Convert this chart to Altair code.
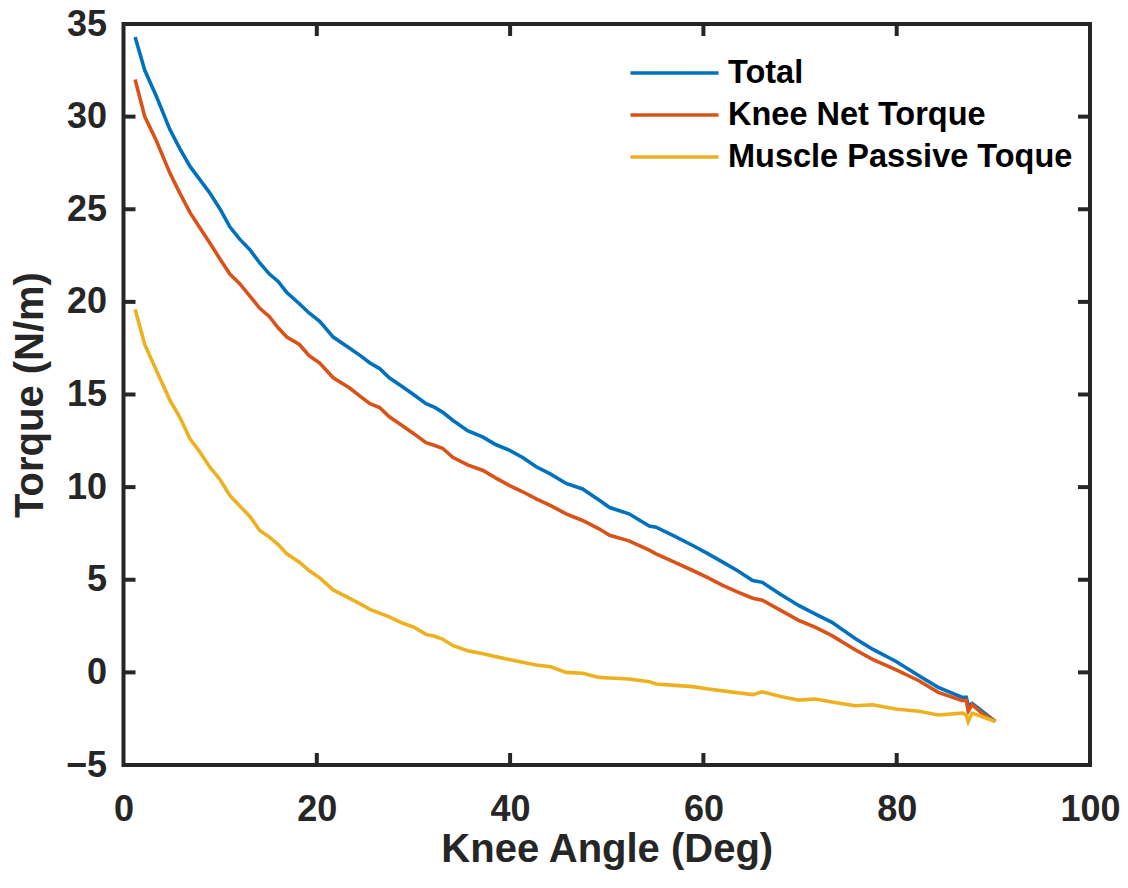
import altair as alt
import pandas as pd

# Knee angle (deg), shared sample positions
knee_angle = [1.2, 2.2, 3.4, 4.8, 5.8, 6.9, 7.9, 8.9, 10.0, 11.0, 12.0, 13.1, 14.1, 15.1,
              16.0, 16.9, 18.2, 19.2, 20.3, 21.7, 23.4, 24.5, 25.5, 26.5, 27.5, 28.9,
              30.0, 31.3, 32.2, 33.0, 34.1, 35.6, 37.2, 38.5, 39.9, 41.3, 42.7, 44.2,
              45.8, 47.5, 49.2, 50.3, 52.3, 54.4, 55.1, 57.0, 58.9, 60.5, 62.0, 63.5,
              65.1, 66.1, 68.0, 69.9, 71.6, 73.3, 75.7, 77.5, 79.9, 82.3, 84.3, 86.8,
              87.2, 87.4, 87.8, 88.8, 90.2]

total = [34.3, 32.5, 31.1, 29.3, 28.3, 27.3, 26.6, 25.9, 25.0, 24.05, 23.4, 22.8, 22.1, 21.5,
         21.1, 20.5, 19.9, 19.4, 18.95, 18.1, 17.5, 17.1, 16.7, 16.4, 15.9, 15.4,
         15.0, 14.5, 14.3, 14.05, 13.6, 13.05, 12.7, 12.3, 12.0, 11.6, 11.1, 10.7,
         10.2, 9.9, 9.3, 8.9, 8.56, 7.9, 7.84, 7.35, 6.85, 6.4, 5.95, 5.5,
         4.96, 4.86, 4.2, 3.6, 3.15, 2.7, 1.83, 1.25, 0.6, -0.18, -0.81, -1.35,
         -1.35, -1.8, -1.68, -2.08, -2.65]

knee_net = [32.0, 30.0, 28.7, 26.95, 25.9, 24.8, 24.0, 23.2, 22.3, 21.5, 21.0, 20.3, 19.65, 19.2,
            18.6, 18.1, 17.7, 17.1, 16.7, 15.9, 15.35, 14.9, 14.5, 14.3, 13.8, 13.3,
            12.9, 12.4, 12.25, 12.1, 11.6, 11.2, 10.9, 10.5, 10.1, 9.75, 9.37, 9.0,
            8.56, 8.2, 7.75, 7.4, 7.1, 6.6, 6.4, 5.95, 5.5, 5.1, 4.7, 4.35,
            4.0, 3.9, 3.35, 2.8, 2.43, 1.98, 1.22, 0.7, 0.15, -0.45, -1.08, -1.53,
            -1.5, -2.1, -1.74, -2.2, -2.65]

muscle_passive = [19.6, 17.7, 16.3, 14.7, 13.8, 12.6, 11.9, 11.1, 10.4, 9.55, 9.0, 8.4, 7.66, 7.3,
                  6.9, 6.4, 5.95, 5.5, 5.1, 4.45, 4.0, 3.7, 3.4, 3.2, 3.0, 2.65,
                  2.45, 2.05, 1.95, 1.8, 1.44, 1.17, 1.0, 0.85, 0.7, 0.55, 0.4, 0.3,
                  0.0, -0.05, -0.27, -0.3, -0.36, -0.5, -0.63, -0.7, -0.77, -0.9, -1.0, -1.1,
                  -1.2, -1.05, -1.3, -1.5, -1.44, -1.6, -1.8, -1.75, -1.98, -2.1, -2.3, -2.2,
                  -2.3, -2.66, -2.2, -2.38, -2.65]

series_names = ["Total", "Knee Net Torque", "Muscle Passive Toque"]
series_colors = ["#0072BD", "#D95319", "#EDB120"]

x_ticks = [0, 20, 40, 60, 80, 100]
y_ticks = [-5, 0, 5, 10, 15, 20, 25, 30, 35]

rows = []
for name, vals in zip(series_names, [total, knee_net, muscle_passive]):
    for i, (a, v) in enumerate(zip(knee_angle, vals)):
        rows.append({"angle": a, "torque": v, "series": name, "order": i})
df = pd.DataFrame(rows)

W, H = 966.5, 741
FONT = "Liberation Sans"
AX = "#262626"

xs = alt.Scale(domain=[0, 100], nice=False)
ys = alt.Scale(domain=[-5, 35], nice=False)

lines = alt.Chart(df).mark_line(strokeWidth=3.6).encode(
    x=alt.X("angle:Q", scale=xs,
            axis=alt.Axis(values=x_ticks, title="Knee Angle (Deg)", grid=False, domain=False,
                          ticks=False, tickSize=0, labelPadding=27, labelFontSize=36,
                          labelFlush=False, labelOverlap=False,
                          labelFont=FONT, labelFontWeight="bold", labelColor=AX,
                          titleFontSize=40, titleFont=FONT, titleFontWeight="bold",
                          titleColor=AX, titleX=W / 2, titleY=96, titleBaseline="alphabetic",
                          titleAlign="center")),
    y=alt.Y("torque:Q", scale=ys,
            axis=alt.Axis(values=y_ticks, title="Torque (N/m)", grid=False, domain=False,
                          ticks=False, tickSize=0, labelPadding=17, labelFontSize=36,
                          labelFlush=False, labelOverlap=False,
                          labelFont=FONT, labelFontWeight="bold", labelColor=AX,
                          titleFontSize=40, titleFont=FONT, titleFontWeight="bold",
                          titleColor=AX, titleX=-81.5, titleY=H / 2, titleAngle=270,
                          titleBaseline="alphabetic", titleAlign="center")),
    color=alt.Color("series:N",
                    scale=alt.Scale(domain=series_names, range=series_colors),
                    legend=alt.Legend(title=None, orient="none", legendX=532.5, legendY=30.5,
                                      padding=0, symbolType="M-2.667,0H2.667",
                                      symbolSize=1089, symbolStrokeWidth=3.5,
                                      labelFontSize=32.5, labelFont=FONT,
                                      labelFontWeight="bold", labelColor="#000000",
                                      labelOffset=35, rowPadding=7, labelLimit=600)),
    order="order:Q",
)

xt = pd.DataFrame({"t": x_ticks[1:-1]})
yt = pd.DataFrame({"t": y_ticks[1:-1]})

tick_style = dict(color=AX, strokeWidth=4)
xb = alt.Chart(xt).mark_rule(**tick_style).encode(
    x=alt.X("t:Q", scale=xs), y=alt.value(H), y2=alt.value(H - 12))
xtp = alt.Chart(xt).mark_rule(**tick_style).encode(
    x=alt.X("t:Q", scale=xs), y=alt.value(0), y2=alt.value(12))
yl = alt.Chart(yt).mark_rule(**tick_style).encode(
    y=alt.Y("t:Q", scale=ys), x=alt.value(0), x2=alt.value(12))
yr = alt.Chart(yt).mark_rule(**tick_style).encode(
    y=alt.Y("t:Q", scale=ys), x=alt.value(W - 12), x2=alt.value(W))

chart = alt.layer(lines, xb, xtp, yl, yr).properties(
    width=W, height=H,
    background="white",
    autosize=alt.AutoSizeParams(type="none"),
    padding={"left": 115.5, "top": 16, "right": 30, "bottom": 110},
).configure_view(stroke=AX, strokeWidth=4)

chart.save("out.html", embed_options={"renderer": "svg", "actions": False})
